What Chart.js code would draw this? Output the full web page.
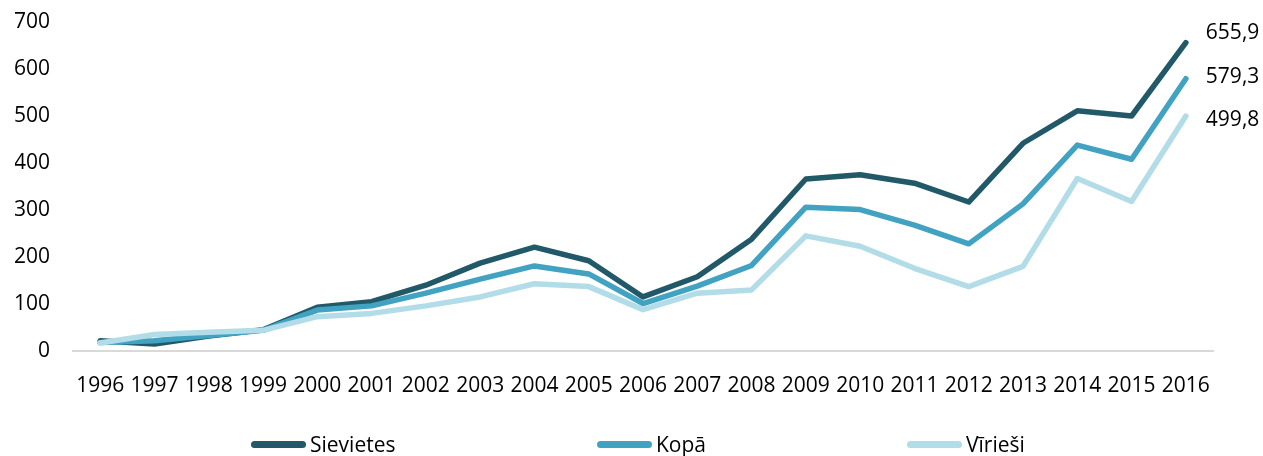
<!DOCTYPE html>
<html>
<head>
<meta charset="utf-8">
<script src="https://cdn.jsdelivr.net/npm/chart.js@4.4.0/dist/chart.umd.min.js"></script>
<style>
    html, body { margin: 0; padding: 0; background: #fff; }
    #wrap { position: relative; width: 1263px; height: 456px; }
    #legend { position: absolute; left: 0; top: 431px; width: 1263px; height: 26px;
              font-family: 'Open Sans', 'Noto Sans', sans-serif; font-size: 21px; color: #000; }
    .item { position: absolute; top: 0; display: flex; align-items: center; height: 26px; }
    .swatch { width: 55px; height: 7px; border-radius: 4px; margin-right: 4px; }
</style>
</head>
<body>
<div id="wrap">
    <canvas id="chart"></canvas>
    <div id="legend"></div>
</div>
<script>
const years = ['1996','1997','1998','1999','2000','2001','2002','2003','2004','2005','2006',
               '2007','2008','2009','2010','2011','2012','2013','2014','2015','2016'];
const sievietes = [22, 15, 32, 45, 93, 105, 140, 187, 221, 192, 115, 158, 238, 366, 375, 357, 317, 442, 511, 500, 655.9];
const kopa      = [18, 22, 33, 44, 87, 96, 123, 153, 181, 164, 101, 138, 182, 306, 301, 268, 228, 313, 438, 408, 579.3];
const virieshi  = [17, 35, 40, 44, 73, 80, 96, 115, 143, 137, 88, 123, 130, 245, 223, 176, 137, 180, 367, 318, 499.8];
const endLabels = ['655,9', '579,3', '499,8'];

const font = "'Open Sans', 'Noto Sans', sans-serif";

// value labels next to the last point of each line
const endLabelPlugin = {
    id: 'endLabels',
    afterDatasetsDraw(chart) {
        const ctx = chart.ctx;
        const shift = [-10, -2, 4];
        ctx.save();
        ctx.font = '21px ' + font;
        ctx.fillStyle = '#000';
        ctx.textBaseline = 'middle';
        ctx.textAlign = 'left';
        chart.data.datasets.forEach((ds, i) => {
            const meta = chart.getDatasetMeta(i);
            const pt = meta.data[meta.data.length - 1];
            ctx.fillText(endLabels[i], pt.x + 20, pt.y + shift[i]);
        });
        ctx.restore();
    }
};

const line = (label, data, color, order) => ({
    label: label,
    data: data,
    borderColor: color,
    backgroundColor: color,
    borderWidth: 5.5,
    pointRadius: 0,
    tension: 0,
    borderCapStyle: 'round',
    borderJoinStyle: 'round',
    order: order
});

const chart = new Chart(document.getElementById('chart'), {
    type: 'line',
    data: {
        labels: years,
        datasets: [
            line('Sievietes', sievietes, '#215968', 2),
            line('Kopā', kopa, '#41A3C1', 1),
            line('Vīrieši', virieshi, '#B2DCE7', 0)
        ]
    },
    plugins: [endLabelPlugin],
    options: {
        responsive: true,
        maintainAspectRatio: false,
        animation: false,
        layout: { padding: { left: 15, right: 50, top: 22, bottom: 61 } },
        plugins: {
            tooltip: { enabled: false },
            legend: { display: false }
        },
        scales: {
            x: {
                offset: true,
                grid: { display: false },
                border: { display: true, color: '#d9d9d9', width: 2 },
                afterFit: scale => { scale.height = 44; },
                ticks: { color: '#000', padding: 14, maxRotation: 0, autoSkip: false,
                         font: { family: font, size: 21 } }
            },
            y: {
                min: 0,
                max: 700,
                grid: { display: false },
                border: { display: false },
                afterFit: scale => { scale.width = 58; scale.paddingTop = 0; scale.paddingBottom = 0; },
                ticks: { stepSize: 100, color: '#000', padding: 15,
                         font: { family: font, size: 21 } }
            }
        }
    }
});

// legend below the axis, spread out like the original
const legendLeft = [251, 597, 907];
const legendEl = document.getElementById('legend');
chart.data.datasets.forEach((ds, i) => {
    const item = document.createElement('div');
    item.className = 'item';
    item.style.left = legendLeft[i] + 'px';
    const sw = document.createElement('span');
    sw.className = 'swatch';
    sw.style.background = ds.borderColor;
    const txt = document.createElement('span');
    txt.textContent = ds.label;
    item.appendChild(sw);
    item.appendChild(txt);
    legendEl.appendChild(item);
});
</script>
</body>
</html>
